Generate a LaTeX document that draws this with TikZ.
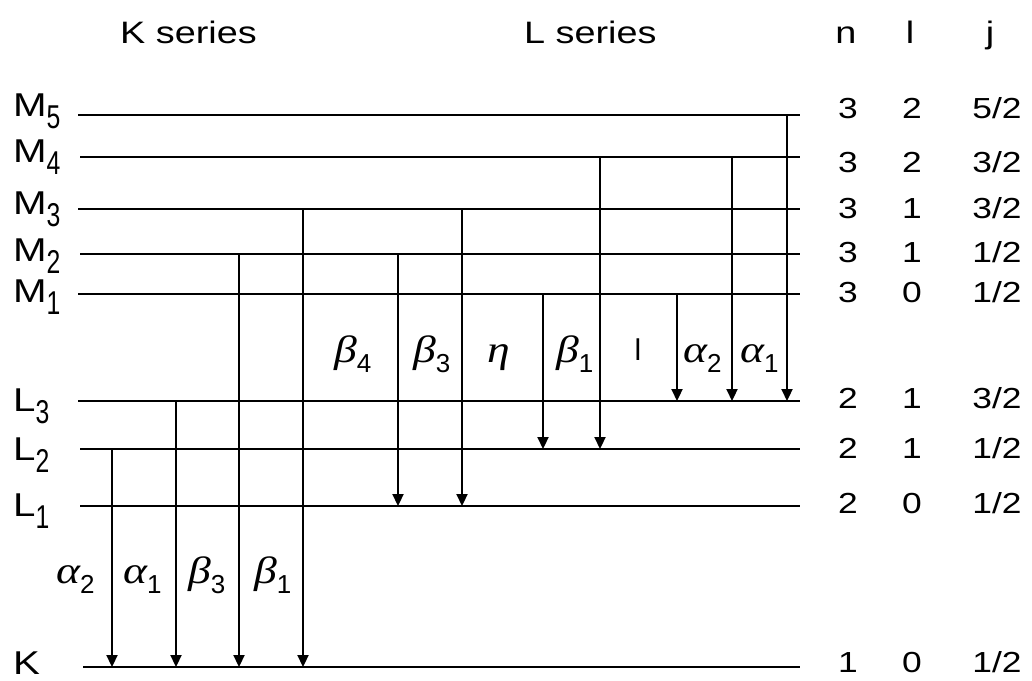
\documentclass[tikz,border=0pt]{standalone}
\usepackage{fontspec}
\setmainfont{Liberation Sans}[FakeStretch=1.22]
\newfontfamily\subsf{Liberation Sans}[FakeStretch=0.75]
\newfontfamily\plainsf{Liberation Sans}
\newfontfamily\grk{Liberation Serif}[FakeStretch=1.2]
\usetikzlibrary{arrows.meta}
\newcommand\lvlname[2]{#1\raisebox{-12pt}{\subsf #2}}
\newcommand\glab[2]{{\grk\itshape\fontsize{38}{38}\selectfont #1}\raisebox{-10pt}{\plainsf\fontsize{26}{26}\selectfont #2}}
\begin{document}
\begin{tikzpicture}[x=1pt,y=-1pt,
  level/.style={line width=2.6pt},
  trans/.style={line width=2.2pt,-{Triangle[length=12pt,width=11pt]}},
  lab/.style={inner sep=0pt,anchor=base west,font=\fontsize{33}{33}\selectfont},
  num/.style={inner sep=0pt,anchor=base,font=\fontsize{29}{29}\selectfont},
  head/.style={inner sep=0pt,font=\fontsize{31}{31}\selectfont},
  glabel/.style={inner sep=0pt,anchor=base west}]
\useasboundingbox (0,0) rectangle (1032,680);
% level end points
\coordinate (M5a) at (78,115);  \coordinate (M5b) at (800,115);
\coordinate (M4a) at (80,157);  \coordinate (M4b) at (800,157);
\coordinate (M3a) at (78,209);  \coordinate (M3b) at (800,209);
\coordinate (M2a) at (80,254);  \coordinate (M2b) at (800,254);
\coordinate (M1a) at (78,294);  \coordinate (M1b) at (800,294);
\coordinate (L3a) at (78,401);  \coordinate (L3b) at (800,401);
\coordinate (L2a) at (80,449);  \coordinate (L2b) at (800,449);
\coordinate (L1a) at (80,506);  \coordinate (L1b) at (800,506);
\coordinate (Ka)  at (83,667);  \coordinate (Kb)  at (800,667);
\foreach \lv in {M5,M4,M3,M2,M1,L3,L2,L1,K} \draw[level] (\lv a) -- (\lv b);
% level names
\node[lab] (nM5) at (13,116) {\lvlname{M}{5}};
\node[lab] (nM4) at (13,162) {\lvlname{M}{4}};
\node[lab] (nM3) at (13,214) {\lvlname{M}{3}};
\node[lab] (nM2) at (13,261) {\lvlname{M}{2}};
\node[lab] (nM1) at (13,302) {\lvlname{M}{1}};
\node[lab] (nL3) at (13,411) {\lvlname{L}{3}};
\node[lab] (nL2) at (13,460) {\lvlname{L}{2}};
\node[lab] (nL1) at (13,516) {\lvlname{L}{1}};
\node[lab] (nK)  at (13,674) {K};
% headers
\node[head,anchor=base west] (hK) at (120,43) {K series};
\node[head,anchor=base west] (hL) at (524,43) {L series};
\node[head,anchor=base] (hn) at (846,43) {n};
\node[head,anchor=base] (hl) at (910,43) {l};
\node[head,anchor=base] (hj) at (990,43) {j};
% quantum numbers
\foreach \nm/\y/\qn/\ql/\qj in {r1/118/3/2/5\slash 2, r2/172/3/2/3\slash 2, r3/218/3/1/3\slash 2,
    r4/262/3/1/1\slash 2, r5/302/3/0/1\slash 2, r6/408/2/1/3\slash 2, r7/458/2/1/1\slash 2,
    r8/513/2/0/1\slash 2, r9/672/1/0/1\slash 2}{
  \node[num] (\nm n) at (848,\y) {\qn};
  \node[num] (\nm l) at (912,\y) {\ql};
  \node[num] (\nm j) at (997,\y) {\qj};
}
% transition columns
\coordinate (kA2) at (112,0); \coordinate (kA1) at (176,0);
\coordinate (kB3) at (239,0); \coordinate (kB1) at (303,0);
\coordinate (lB4) at (398,0); \coordinate (lB3) at (462,0);
\coordinate (lEt) at (543,0); \coordinate (lB1) at (600,0);
\coordinate (lLl) at (677,0); \coordinate (lA2) at (732,0);
\coordinate (lA1) at (787,0);
% K series
\draw[trans] (kA2 |- L2a) -- (kA2 |- Ka);
\draw[trans] (kA1 |- L3a) -- (kA1 |- Ka);
\draw[trans] (kB3 |- M2a) -- (kB3 |- Ka);
\draw[trans] (kB1 |- M3a) -- (kB1 |- Ka);
% L series
\draw[trans] (lB4 |- M2a) -- (lB4 |- L1a);
\draw[trans] (lB3 |- M3a) -- (lB3 |- L1a);
\draw[trans] (lEt |- M1a) -- (lEt |- L2a);
\draw[trans] (lB1 |- M4a) -- (lB1 |- L2a);
\draw[trans] (lLl |- M1a) -- (lLl |- L3a);
\draw[trans] (lA2 |- M4a) -- (lA2 |- L3a);
\draw[trans] (lA1 |- M5a) -- (lA1 |- L3a);
% labels of transitions
\node[glabel] (gKa2) at (56,583) {\glab{α}{2}};
\node[glabel] (gKa1) at (123,583) {\glab{α}{1}};
\node[glabel] (gKb3) at (188,583) {\glab{β}{3}};
\node[glabel] (gKb1) at (254,583) {\glab{β}{1}};
\node[glabel] (gLb4) at (334,362) {\glab{β}{4}};
\node[glabel] (gLb3) at (413,362) {\glab{β}{3}};
\node[glabel] (gLet) at (487,362) {\glab{η}{}};
\node[glabel] (gLb1) at (556,362) {\glab{β}{1}};
\node[inner sep=0pt,anchor=base,font=\plainsf\fontsize{30}{30}\selectfont] (gLl) at (638,360) {l};
\node[glabel] (gLa2) at (683,362) {\glab{α}{2}};
\node[glabel] (gLa1) at (740,362) {\glab{α}{1}};
\end{tikzpicture}
\end{document}
